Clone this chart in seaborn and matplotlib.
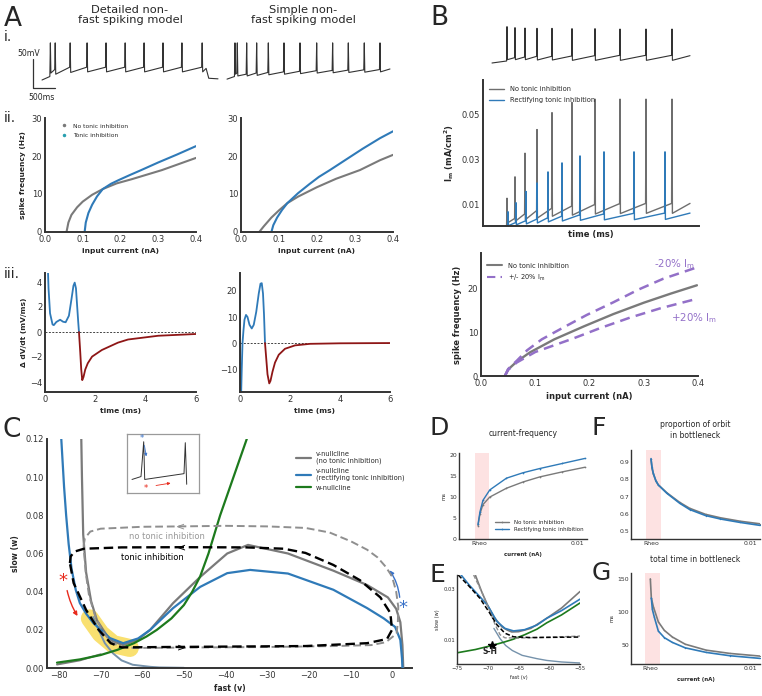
import matplotlib
matplotlib.use("Agg")
import matplotlib.pyplot as plt
import seaborn as sns
from matplotlib.lines import Line2D

sns.set_style("white")
plt.rcParams['font.family'] = ['DejaVu Sans']
plt.rcParams['mathtext.default'] = 'regular'

W, H = 762, 696

GRAY = "#7a7a7a"
BLUE = "#2f7ab8"
RED = "#8e1616"
GREEN = "#1d7a1d"
PURPLE = "#9370c8"
PINK = "#fde2e2"
BGRAY = "#7592ab"
SPINE = "#333333"

# ==============================================================================
# Data
# ==============================================================================

# --- A.i voltage traces (ms, mV) ---
det_start = (0, -70)
det_spike_t = [190, 300, 640, 1025, 1455, 1890, 2320, 2750, 3180, 3640]
det_pre = [-64, -52, -48, -48, -48, -48, -48, -48, -48, -48]
det_peak = [-6, -6, -6, -6, -6, -6, -6, -6, -6, -6]
det_trough = [-58, -60, -57, -56, -56, -56, -56, -56, -56, -56]
det_tail_t = [3730, 3790, 4000]
det_tail_v = [-50, -67, -68]

sim_start = (4205, -68.5)
sim_spike_t = [4386, 4439, 4652, 4879, 5144, 5500, 5864, 6243, 6606, 6962, 7325, 7682]
sim_pre = [-64, -58, -60, -58, -57, -56, -55, -54, -53.5, -53, -52.5, -52]
sim_peak = [-6, -6, -6, -6, -6, -6, -6, -6, -6, -6, -6, -6]
sim_trough = [-60, -63, -63, -62, -61, -60, -59, -58, -57.5, -57, -56.5, -56]
sim_tail_t = [7909]
sim_tail_v = [-51]

# scale bar: 50 mV x 500 ms
bar_mv = 50
bar_ms = 500

# --- A.ii f-I curves ---
det_fi_gray_x = [0.057, 0.062, 0.07, 0.085, 0.1, 0.125, 0.153, 0.19, 0.23, 0.27, 0.31, 0.355, 0.4]
det_fi_gray_y = [0, 2.5, 4.5, 6.5, 8, 9.8, 11.3, 12.8, 13.9, 15.1, 16.3, 17.9, 19.5]
det_fi_blue_x = [0.105, 0.108, 0.115, 0.125, 0.138, 0.153, 0.175, 0.196, 0.225, 0.255, 0.3, 0.35, 0.4]
det_fi_blue_y = [0, 2.5, 5, 7.2, 9.4, 11.3, 12.7, 13.7, 15, 16.3, 18.3, 20.4, 22.6]
sim_fi_gray_x = [0.048, 0.06, 0.08, 0.1, 0.122, 0.15, 0.2, 0.25, 0.313, 0.366, 0.4]
sim_fi_gray_y = [0, 1.5, 3.8, 5.7, 7.6, 9.3, 11.8, 14, 16.3, 18.9, 20.3]
sim_fi_blue_x = [0.08, 0.085, 0.095, 0.108, 0.122, 0.15, 0.18, 0.205, 0.234, 0.28, 0.32, 0.366, 0.4]
sim_fi_blue_y = [0, 1.8, 3.8, 5.8, 7.6, 10.2, 12.6, 14.5, 16.3, 19.3, 21.9, 24.7, 26.5]

# --- A.iii delta dV/dt ---
det_dv_pos_t = [0.1, 0.14, 0.2, 0.3, 0.35, 0.45, 0.6, 0.72, 0.82, 0.95, 1.05, 1.13, 1.18, 1.23, 1.28, 1.32, 1.35]
det_dv_pos_v = [6, 3.5, 1.5, 0.6, 0.55, 0.8, 0.98, 0.82, 0.78, 1.3, 2.6, 3.7, 3.95, 3.5, 2.0, 0.8, 0]
det_dv_neg_t = [1.35, 1.4, 1.44, 1.48, 1.53, 1.6, 1.7, 1.87, 2.26, 2.9, 3.3, 4.5, 6.0]
det_dv_neg_v = [0, -1.6, -3.0, -3.85, -3.6, -3.0, -2.5, -1.97, -1.44, -0.85, -0.6, -0.3, -0.16]
sim_dv_pos_t = [0.04, 0.07, 0.1, 0.14, 0.18, 0.24, 0.3, 0.38, 0.47, 0.55, 0.65, 0.75, 0.82, 0.87, 0.92, 0.96, 1.0]
sim_dv_pos_v = [-22, -10, 0, 5, 9, 10.8, 10, 7, 5.6, 7, 12, 19, 22.8, 23, 19, 11, 0]
sim_dv_neg_t = [1.0, 1.05, 1.1, 1.17, 1.22, 1.3, 1.4, 1.55, 1.8, 2.2, 2.8, 4.0, 6.0]
sim_dv_neg_v = [0, -6, -12, -15.5, -14.5, -11, -7.5, -4.5, -2.2, -0.9, -0.3, -0.1, 0]

# --- B top voltage trace and I_m traces (time in ms) ---
top_start = (45, -70)
top_spike_t = [120, 160, 210, 270, 345, 445, 560, 685, 815, 945]
top_pre = [-67, -62, -61, -60, -60, -59.5, -59, -58.5, -58.5, -58.5]
top_peak = [-15.5, -17, -17.5, -18, -18, -18.5, -18.5, -19, -19, -19]
top_trough = [-65, -65, -65, -65.5, -65.5, -66, -66, -66, -66, -66]
top_end = (1035, -59)

im_gray_t = [120, 160, 210, 270, 345, 445, 560, 685, 815, 945]
im_gray_peak = [0.013, 0.0225, 0.033, 0.0435, 0.051, 0.0555, 0.057, 0.057, 0.057, 0.057]
im_gray_pre = [0.0008, 0.004, 0.006, 0.0075, 0.0085, 0.0095, 0.0102, 0.0106, 0.0107, 0.0107]
im_gray_trough = [0.002, 0.0028, 0.0035, 0.0042, 0.005, 0.0055, 0.006, 0.0062, 0.0063, 0.0063]
im_gray_end = (1035, 0.0107)
im_blue_t = [125, 165, 215, 270, 325, 395, 485, 605, 755, 910]
im_blue_peak = [0.007, 0.011, 0.016, 0.0198, 0.0247, 0.0287, 0.0318, 0.0336, 0.0336, 0.0336]
im_blue_pre = [0.0008, 0.0022, 0.003, 0.0037, 0.0043, 0.005, 0.0056, 0.006, 0.0063, 0.0064]
im_blue_trough = [0.0008, 0.0012, 0.0016, 0.002, 0.0025, 0.0029, 0.0032, 0.0034, 0.0035, 0.0036]
im_blue_end = (1035, 0.0064)

# --- B f-I with +/- 20% I_m ---
b_gray_x = [0.044, 0.05, 0.066, 0.09, 0.135, 0.19, 0.244, 0.3, 0.35, 0.398]
b_gray_y = [0, 1.5, 3.3, 5.4, 8.4, 11.4, 14.2, 16.8, 18.9, 20.8]
b_minus_x = [0.044, 0.05, 0.066, 0.085, 0.112, 0.15, 0.195, 0.244, 0.29, 0.336, 0.398]
b_minus_y = [0, 1.6, 3.5, 5.9, 8.4, 11, 14, 16.9, 19.8, 22.3, 24.9]
b_plus_x = [0.044, 0.05, 0.066, 0.1, 0.17, 0.22, 0.275, 0.33, 0.398]
b_plus_y = [0, 1.4, 3.1, 5.5, 8.6, 11, 13.4, 15.5, 17.7]

# --- C phase plane ---
c_gray_v = [-74.7, -74.5, -74.2, -73.5, -72.3, -70.9, -67.8, -64.6, -61, -58.1, -52.6, -46.1, -39.6,
            -34.6, -25, -14.1, -6, -1, 1, 2.0, 2.5, 2.7]
c_gray_w = [0.125, 0.1, 0.07, 0.05, 0.035, 0.025, 0.0147, 0.012, 0.015, 0.02, 0.034, 0.0477, 0.06,
            0.0645, 0.06, 0.051, 0.0435, 0.037, 0.031, 0.024, 0.012, 0.0]
c_blue_v = [-79.6, -79.2, -78.8, -78.3, -77.7, -77.0, -76.0, -75.0, -73.5, -71.8, -67.8, -64.6, -61,
            -58.1, -52.6, -46.1, -39.6, -34.1, -25, -14.1, -6, -2, 0.75, 2, 2.4, 2.5]
c_blue_w = [0.125, 0.11, 0.095, 0.08, 0.065, 0.052, 0.041, 0.034, 0.0285, 0.0236, 0.0157, 0.013, 0.0155,
            0.02, 0.0314, 0.0425, 0.0497, 0.0514, 0.0495, 0.041, 0.0314, 0.026, 0.0215, 0.0147, 0.005, 0.0]
c_low_v = [-71.8, -70.5, -69, -67.1, -65, -62.3, -58, -55.9, -50]
c_low_w = [0.0267, 0.02, 0.013, 0.0078, 0.004, 0.0017, 0.0006, 0.0003, 0.0001]
c_low2_v = [-80.5, -75, -70]
c_low2_w = [0.0018, 0.004, 0.0072]
c_green_v = [-80.5, -75, -70, -66, -62, -59, -56.5, -53, -50, -48, -46.1, -44.1, -41.3, -38.1, -34.9, -34.5]
c_green_w = [0.0028, 0.0045, 0.0068, 0.0095, 0.013, 0.0165, 0.02, 0.026, 0.033, 0.04, 0.048, 0.06, 0.08,
             0.10, 0.12, 0.1225]
orbit_no_v = [-74.1, -73.8, -72.5, -70, -60, -50.9, -40, -30, -20.8, -15, -9.9, -6, -3.5, -1.5, 0, 1, 1.5,
              1.4, 1.1, -1.5, -5, -14, -30, -50, -62, -65, -67.5, -69.5, -71.3, -72.8, -73.6, -74.1]
orbit_no_w = [0.064, 0.068, 0.0715, 0.073, 0.074, 0.0742, 0.0745, 0.0742, 0.0734, 0.071, 0.0664, 0.062,
              0.058, 0.053, 0.048, 0.04, 0.032, 0.024, 0.018, 0.0135, 0.012, 0.0115, 0.011, 0.0107, 0.0105,
              0.011, 0.0135, 0.019, 0.027, 0.038, 0.05, 0.064]
orbit_ti_v = [-77.4, -77.2, -76.3, -74, -65, -50.5, -35, -26, -20.8, -14.1, -7.7, -2.8, -0.4, 0, -1.2, -6,
              -20.8, -54, -65, -67.6, -70.5, -73.5, -76.5, -77.4]
orbit_ti_w = [0.055, 0.0585, 0.061, 0.0625, 0.0632, 0.0633, 0.0632, 0.0625, 0.0603, 0.054, 0.046, 0.037,
              0.0288, 0.02, 0.0152, 0.013, 0.0115, 0.011, 0.0108, 0.013, 0.02, 0.0304, 0.0445, 0.055]
bottleneck_v = [-72.6, -70, -67, -63]
bottleneck_w = [0.026, 0.018, 0.0125, 0.0105]

inset_t = [5, 14, 16.7, 17.7, 57, 58.3, 59.7]
inset_v = [12, 15, 51, 12, 18, 50, 7]

# --- D current-frequency ---
d_gray_x = [-0.0001, 0.0001, 0.0004, 0.0011, 0.0028, 0.0045, 0.0062, 0.0085, 0.0108]
d_gray_y = [3.2, 6, 8.2, 10, 12.1, 13.6, 14.8, 16, 17.1]
d_blue_x = [-0.0001, 0.0001, 0.0004, 0.0011, 0.0028, 0.0045, 0.0062, 0.0085, 0.0108]
d_blue_y = [3.5, 6.5, 9.2, 11.7, 14.5, 15.8, 16.8, 18, 19.2]

# --- E zoom of bottleneck ---
e_gray_v = [-72.1, -71, -70, -69, -67.7, -66.8, -66.1, -65, -63, -60.4, -58, -55]
e_gray_w = [0.036, 0.029, 0.0235, 0.019, 0.0151, 0.0138, 0.0131, 0.0132, 0.0145, 0.0185, 0.0225, 0.029]
e_blue_v = [-74.5, -73, -71.3, -70, -68.5, -67.2, -65.8, -64, -62, -60.4, -58, -55]
e_blue_w = [0.036, 0.0315, 0.027, 0.0235, 0.0172, 0.0145, 0.0135, 0.014, 0.0158, 0.0185, 0.0215, 0.026]
e_low_v = [-69, -68, -67.1, -66, -64.4, -62, -60.4, -58, -55]
e_low_w = [0.0145, 0.0105, 0.0078, 0.0058, 0.0039, 0.0026, 0.0019, 0.0013, 0.0009]
e_green_v = [-75, -72, -69.3, -67.5, -65.9, -64, -62, -60.4, -58, -55]
e_green_w = [0.0049, 0.0062, 0.0078, 0.009, 0.0102, 0.012, 0.0142, 0.0167, 0.0198, 0.0245]
e_orbit_no_v = [-72.3, -71, -69.8, -68.8, -68, -67.2, -65, -62, -58, -55]
e_orbit_no_w = [0.0355, 0.029, 0.022, 0.016, 0.012, 0.0108, 0.0107, 0.0109, 0.0112, 0.0115]
e_orbit_ti_v = [-74.8, -73, -71.3, -69.8, -68.5, -67.2, -65.8, -63, -59, -55]
e_orbit_ti_w = [0.0355, 0.031, 0.0264, 0.021, 0.0159, 0.0126, 0.0112, 0.0109, 0.011, 0.0111]
sh_point = (-69.3, 0.0080)

# --- F proportion of orbit in bottleneck ---
f_x = [0.0, 0.0001, 0.00023, 0.0005, 0.00074, 0.0016, 0.0029, 0.0039, 0.0055, 0.007, 0.009, 0.011]
f_gray_y = [0.915, 0.865, 0.832, 0.79, 0.768, 0.722, 0.666, 0.632, 0.597, 0.577, 0.557, 0.542]
f_blue_y = [0.92, 0.87, 0.835, 0.79, 0.767, 0.719, 0.661, 0.625, 0.59, 0.57, 0.55, 0.533]

# --- G total time in bottleneck ---
g_gray_x = [0.0, 0.0001, 0.0003, 0.0008, 0.0014, 0.0022, 0.0035, 0.0056, 0.008, 0.011]
g_gray_y = [150, 121, 108, 85, 72, 62, 51, 42, 37, 33]
g_blue_x = [0.0001, 0.0002, 0.0004, 0.0008, 0.0014, 0.0022, 0.0035, 0.0056, 0.008, 0.011]
g_blue_y = [121, 104, 92, 71, 61, 53.8, 45.5, 38.6, 33.5, 29.5]

# ==============================================================================
# Helpers
# ==============================================================================

fig = plt.figure(figsize=(W / 100, H / 100), dpi=100)


def add_ax(x0, y0, x1, y1):
    """Axes from pixel box (left, top, right, bottom)."""
    return fig.add_axes([x0 / W, 1 - y1 / H, (x1 - x0) / W, (y1 - y0) / H])


def style(ax, fs=6, lw=1.4):
    sns.despine(ax=ax)
    for s in ("left", "bottom"):
        ax.spines[s].set_linewidth(lw)
        ax.spines[s].set_color(SPINE)
    ax.tick_params(length=0, labelsize=fs, pad=2, colors="#333333")


def bare(ax):
    ax.set_xticks([])
    ax.set_yticks([])
    for s in ax.spines.values():
        s.set_visible(False)
    ax.patch.set_alpha(0)


def ftext(x, y, s, **kw):
    fig.text(x / W, 1 - y / H, s, **kw)


def spike_trace(start, times, pre, peak, trough, tail_t, tail_v, width):
    t, v = [start[0]], [start[1]]
    for ts, a, b, c in zip(times, pre, peak, trough):
        t += [ts - width, ts, ts + width]
        v += [a, b, c]
    return t + list(tail_t), v + list(tail_v)


def curve(ax, x, y, **kw):
    sns.lineplot(x=x, y=y, ax=ax, sort=False, estimator=None, **kw)


# ==============================================================================
# Panel A
# ==============================================================================
ftext(4, 26, "A", fontsize=19, va="baseline")
ftext(130, 15, "Detailed non-\nfast spiking model", fontsize=8.2, ha="center", va="center", linespacing=1.05)
ftext(303, 15, "Simple non-\nfast spiking model", fontsize=8.2, ha="center", va="center", linespacing=1.05)
ftext(4, 37, "i.", fontsize=10, va="center")
ftext(4, 118, "ii.", fontsize=10, va="center")
ftext(4, 274, "iii.", fontsize=10, va="center")

ax_tr = add_ax(30, 35, 392, 100)
bare(ax_tr)
t1, v1 = spike_trace(det_start, det_spike_t, det_pre, det_peak, det_trough, det_tail_t, det_tail_v, 12)
t2, v2 = spike_trace(sim_start, sim_spike_t, sim_pre, sim_peak, sim_trough, sim_tail_t, sim_tail_v, 12)
ax_tr.plot(t1, v1, color="#333333", lw=0.8)
ax_tr.plot(t2, v2, color="#333333", lw=0.8)
bar_t0, bar_v0 = -205, -84
ax_tr.plot([bar_t0, bar_t0, bar_t0 + bar_ms], [bar_v0 + bar_mv, bar_v0, bar_v0], color="#333333", lw=0.9)
ax_tr.set_xlim(-273, 7955)
ax_tr.set_ylim(-104.5, 7.6)
ftext(17, 53, "50mV", fontsize=5.6, va="center")
ftext(28, 97, "500ms", fontsize=5.6, va="center")

fi_sets = [((45, 118, 196, 232), det_fi_gray_x, det_fi_gray_y, det_fi_blue_x, det_fi_blue_y),
           ((241, 118, 393, 232), sim_fi_gray_x, sim_fi_gray_y, sim_fi_blue_x, sim_fi_blue_y)]
for i, (box, gx, gy, bx, by) in enumerate(fi_sets):
    ax = add_ax(*box)
    curve(ax, gx, gy, color=GRAY, lw=1.5)
    curve(ax, bx, by, color=BLUE, lw=1.5)
    ax.set_xlim(0, 0.4)
    ax.set_ylim(0, 30)
    ax.set_xticks([0, 0.1, 0.2, 0.3, 0.4])
    ax.set_xticklabels(["0.0", "0.1", "0.2", "0.3", "0.4"])
    ax.set_yticks([0, 10, 20, 30])
    style(ax)
    ax.set_xlabel("input current (nA)", fontsize=5.4, fontweight="bold", labelpad=3)
    if i == 0:
        ax.set_ylabel("spike frequency (Hz)", fontsize=5.4, fontweight="bold", labelpad=4)
        hs = [Line2D([], [], ls="", marker=".", ms=3, color=GRAY),
              Line2D([], [], ls="", marker=".", ms=3, color="#2aa0b0")]
        ax.legend(hs, ["No tonic inhibition", "Tonic inhibition"], loc="upper left",
                  bbox_to_anchor=(0.05, 1.0), frameon=False, fontsize=4.3, handletextpad=0.6,
                  labelspacing=0.7)

dv_sets = [((45, 273, 196, 392), det_dv_pos_t, det_dv_pos_v, det_dv_neg_t, det_dv_neg_v,
            (-4.8, 4.72), [-4, -2, 0, 2, 4]),
           ((240, 273, 390, 392), sim_dv_pos_t, sim_dv_pos_v, sim_dv_neg_t, sim_dv_neg_v,
            (-18.8, 26.9), [-10, 0, 10, 20])]
for i, (box, pt, pv, nt, nv, ylim, yt) in enumerate(dv_sets):
    ax = add_ax(*box)
    ax.axhline(0, color="#444444", lw=0.7, ls=(0, (2, 1.5)), zorder=1)
    curve(ax, pt, pv, color=BLUE, lw=1.3)
    curve(ax, nt, nv, color=RED, lw=1.3)
    ax.set_xlim(0, 6)
    ax.set_ylim(*ylim)
    ax.set_xticks([0, 2, 4, 6])
    ax.set_yticks(yt)
    style(ax)
    ax.set_xlabel("time (ms)", fontsize=5.4, fontweight="bold", labelpad=3)
    if i == 0:
        ax.set_ylabel("\u0394 dV/dt (mV/ms)", fontsize=5.4, fontweight="bold", labelpad=2)

# ==============================================================================
# Panel B
# ==============================================================================
ftext(430, 25, "B", fontsize=19, va="baseline")

ax_bt = add_ax(483, 22, 699, 68)
bare(ax_bt)
tt, tv = spike_trace(top_start, top_spike_t, top_pre, top_peak, top_trough, [top_end[0]], [top_end[1]], 2)
ax_bt.plot(tt, tv, color="#333333", lw=0.8)
ax_bt.set_xlim(0, 1080)
ax_bt.set_ylim(-77.5, -8.5)

ax_im = add_ax(483, 80, 699, 226)
gt, gv = spike_trace((115, 0.0008), im_gray_t, im_gray_pre, im_gray_peak, im_gray_trough,
                     [im_gray_end[0]], [im_gray_end[1]], 2)
bt, bv = spike_trace((118, 0.0008), im_blue_t, im_blue_pre, im_blue_peak, im_blue_trough,
                     [im_blue_end[0]], [im_blue_end[1]], 2)
ax_im.plot(gt, gv, color="#6e6e6e", lw=1.0, label="No tonic inhibition")
ax_im.plot(bt, bv, color=BLUE, lw=1.0, label="Rectifying tonic inhibition")
ax_im.set_xlim(0, 1080)
ax_im.set_ylim(0.00067, 0.0655)
ax_im.set_xticks([])
ax_im.set_yticks([0.01, 0.03, 0.05])
ax_im.set_yticklabels(["0.01", "0.03", "0.05"])
style(ax_im)
ax_im.set_xlabel("time (ms)", fontsize=6, fontweight="bold", labelpad=3)
ax_im.set_ylabel("I$_m$ (mA/cm$^2$)", fontsize=6, fontweight="bold", labelpad=4)
ax_im.legend(loc="upper left", bbox_to_anchor=(0.0, 1.0), frameon=False, fontsize=4.8,
             handlelength=2.3, labelspacing=0.8)

ax_bf = add_ax(481, 253, 698, 376)
curve(ax_bf, b_gray_x, b_gray_y, color=GRAY, lw=1.7)
ax_bf.plot(b_minus_x, b_minus_y, color=PURPLE, lw=1.8, ls=(0, (4, 2.5)))
ax_bf.plot(b_plus_x, b_plus_y, color=PURPLE, lw=1.8, ls=(0, (4, 2.5)))
ax_bf.set_xlim(0, 0.4)
ax_bf.set_ylim(0, 28.2)
ax_bf.set_xticks([0, 0.1, 0.2, 0.3, 0.4])
ax_bf.set_xticklabels(["0.0", "0.1", "0.2", "0.3", "0.4"])
ax_bf.set_yticks([0, 10, 20])
style(ax_bf)
ax_bf.set_xlabel("input current (nA)", fontsize=6, fontweight="bold", labelpad=3)
ax_bf.set_ylabel("spike frequency (Hz)", fontsize=6, fontweight="bold", labelpad=4)
hs = [Line2D([], [], color=GRAY, lw=1.5), Line2D([], [], color=PURPLE, lw=1.5, ls=(0, (4, 2.5)))]
ax_bf.legend(hs, ["No tonic inhibition", "+/- 20% I$_m$"], loc="upper left", bbox_to_anchor=(0.0, 0.97),
             frameon=False, fontsize=4.8, handlelength=2.3, labelspacing=0.6)
ftext(675, 264, "-20% I$_m$", fontsize=7.4, color=PURPLE, ha="center", va="center")
ftext(694, 318, "+20% I$_m$", fontsize=7.4, color=PURPLE, ha="center", va="center")

# ==============================================================================
# Panel C
# ==============================================================================
ftext(3, 437, "C", fontsize=19, va="baseline")
ax_c = add_ax(47, 439, 412, 668)
ax_c.plot(bottleneck_v, bottleneck_w, color="#f7d640", lw=13, alpha=0.75, solid_capstyle="round", zorder=1)
ax_c.plot(c_low2_v, c_low2_w, color=GRAY, lw=1.4, zorder=2)
ax_c.plot(c_low_v, c_low_w, color=BGRAY, lw=1.4, zorder=2)
ax_c.plot(c_gray_v, c_gray_w, color=GRAY, lw=1.6, zorder=3, label="v-nullcline\n(no tonic inhibition)")
ax_c.plot(c_blue_v, c_blue_w, color=BLUE, lw=1.6, zorder=3, label="v-nullcline\n(rectifying tonic inhibition)")
ax_c.plot(c_green_v, c_green_w, color=GREEN, lw=1.6, zorder=3, label="w-nullcline")
ax_c.plot(orbit_no_v, orbit_no_w, color="#8f8f8f", lw=1.4, ls=(0, (4, 2)), zorder=4)
ax_c.plot(orbit_ti_v, orbit_ti_w, color="black", lw=1.7, ls=(0, (4, 2)), zorder=4)
ax_c.text(-50.9, 0.0742, "<", color="#8f8f8f", fontsize=8, ha="center", va="center", zorder=5)
ax_c.text(-50.5, 0.0633, "<", color="black", fontsize=8, ha="center", va="center", zorder=5)
ax_c.text(-50.5, 0.0108, ">", color="black", fontsize=8, ha="center", va="center", zorder=5)
ax_c.text(-54, 0.069, "no tonic inhibition", color="#999999", fontsize=6, ha="center", va="center")
ax_c.text(-57.7, 0.0577, "tonic inhibition", color="black", fontsize=6, ha="center", va="center")
ax_c.text(-79, 0.0458, "*", color="#e82a1c", fontsize=13, ha="center", va="center")
ax_c.annotate("", xy=(-75.2, 0.026), xytext=(-78.2, 0.042),
              arrowprops=dict(arrowstyle="-|>", color="#e82a1c", lw=1.0, mutation_scale=6,
                              connectionstyle="arc3,rad=0.1"))
ax_c.text(2.6, 0.0315, "*", color="#3a72c8", fontsize=13, ha="center", va="center")
ax_c.annotate("", xy=(-1.0, 0.0524), xytext=(1.9, 0.0356),
              arrowprops=dict(arrowstyle="-|>", color="#3a72c8", lw=1.0, mutation_scale=6,
                              connectionstyle="arc3,rad=0.15"))
ax_c.set_xlim(-82.9, 4.8)
ax_c.set_ylim(0, 0.12)
ax_c.set_xticks(range(-80, 1, 10))
ax_c.set_yticks([0, 0.02, 0.04, 0.06, 0.08, 0.10, 0.12])
ax_c.set_yticklabels(["0.00", "0.02", "0.04", "0.06", "0.08", "0.10", "0.12"])
style(ax_c)
ax_c.set_xlabel("fast (v)", fontsize=5.6, fontweight="bold", labelpad=3)
ax_c.set_ylabel("slow (w)", fontsize=5.6, fontweight="bold", labelpad=4)
ax_c.legend(loc="upper left", bbox_to_anchor=((290 - 47) / 365, (668 - 445) / 229), frameon=False,
            fontsize=4.8, handlelength=2.2, labelspacing=0.5)

ax_in = add_ax(127, 434, 199, 493)
ax_in.plot(inset_t, inset_v, color="#333333", lw=0.7)
ax_in.text(14.7, 54, "*", color="#3a72c8", fontsize=6, ha="center", va="center")
ax_in.annotate("", xy=(19.7, 33), xytext=(17, 50),
               arrowprops=dict(arrowstyle="-|>", color="#3a72c8", lw=0.6, mutation_scale=4))
ax_in.text(19, 3, "*", color="#e82a1c", fontsize=6, ha="center", va="center")
ax_in.annotate("", xy=(46.3, 8.7), xytext=(26.3, 5.3),
               arrowprops=dict(arrowstyle="-|>", color="#e82a1c", lw=0.6, mutation_scale=4))
ax_in.set_xlim(0, 72)
ax_in.set_ylim(-2, 59)
ax_in.set_xticks([])
ax_in.set_yticks([])
for s in ax_in.spines.values():
    s.set_visible(True)
    s.set_color("#9a9a9a")
    s.set_linewidth(0.9)

# ==============================================================================
# Panels D, E, F, G
# ==============================================================================
ftext(430, 435, "D", fontsize=18, va="baseline")
ftext(592, 435, "F", fontsize=18, va="baseline")
ftext(430, 582, "E", fontsize=18, va="baseline")
ftext(592, 580, "G", fontsize=18, va="baseline")


def small_style(ax):
    style(ax, fs=4.4, lw=1.0)
    ax.tick_params(pad=1.5)


ax_d = add_ax(459, 453, 587, 539)
ax_d.axvspan(-0.0004, 0.001, color=PINK, lw=0, zorder=0)
curve(ax_d, d_gray_x, d_gray_y, color=GRAY, lw=1.0, marker=".", ms=2.5, mec="none", label="No tonic inhibition")
curve(ax_d, d_blue_x, d_blue_y, color=BLUE, lw=1.0, marker=".", ms=2.5, mec="none",
      label="Rectifying tonic inhibition")
ax_d.set_xlim(-0.00204, 0.01102)
ax_d.set_ylim(0, 20.5)
ax_d.set_xticks([0, 0.01])
ax_d.set_xticklabels(["Rheo", "0.01"])
ax_d.set_yticks([0, 5, 10, 15, 20])
small_style(ax_d)
ax_d.set_title("current-frequency", fontsize=5.5, pad=12)
ax_d.set_xlabel("current (nA)", fontsize=4, fontweight="bold", labelpad=4)
ax_d.set_ylabel("ms", fontsize=3.8, labelpad=2)
ax_d.legend(loc="lower left", bbox_to_anchor=(0.24, 0.02), frameon=False, fontsize=4, handlelength=2.6,
            labelspacing=0.5)

ax_f = add_ax(631, 450, 760, 539)
ax_f.axvspan(-0.0005, 0.001, color=PINK, lw=0, zorder=0)
curve(ax_f, f_x, f_gray_y, color=GRAY, lw=1.2, marker=".", ms=2, mec="none")
curve(ax_f, f_x, f_blue_y, color=BLUE, lw=1.2, marker=".", ms=2, mec="none")
ax_f.set_xlim(-0.00202, 0.0110)
ax_f.set_ylim(0.454, 0.97)
ax_f.set_xticks([0, 0.01])
ax_f.set_xticklabels(["Rheo", "0.01"])
ax_f.set_yticks([0.5, 0.6, 0.7, 0.8, 0.9])
small_style(ax_f)
ax_f.set_title("proportion of orbit\nin bottleneck", fontsize=5.5, pad=9, linespacing=1.2)

ax_g = add_ax(631, 573, 760, 664)
ax_g.axvspan(-0.0005, 0.001, color=PINK, lw=0, zorder=0)
curve(ax_g, g_gray_x, g_gray_y, color=GRAY, lw=1.2, marker=".", ms=2, mec="none")
curve(ax_g, g_blue_x, g_blue_y, color=BLUE, lw=1.2, marker=".", ms=2, mec="none")
ax_g.set_xlim(-0.00194, 0.0110)
ax_g.set_ylim(21, 159)
ax_g.set_xticks([0, 0.01])
ax_g.set_xticklabels(["Rheo", "0.01"])
ax_g.set_yticks([50, 100, 150])
small_style(ax_g)
ax_g.set_title("total time in bottleneck", fontsize=5.5, pad=8)
ax_g.set_xlabel("current (nA)", fontsize=4, fontweight="bold", labelpad=4)
ax_g.set_ylabel("ms", fontsize=3.8, labelpad=2)

ax_e = add_ax(457, 575, 580, 664)
ax_e.plot(e_low_v, e_low_w, color=BGRAY, lw=1.0)
ax_e.plot(e_gray_v, e_gray_w, color=GRAY, lw=1.2)
ax_e.plot(e_blue_v, e_blue_w, color=BLUE, lw=1.2)
ax_e.plot(e_green_v, e_green_w, color=GREEN, lw=1.2)
ax_e.plot(e_orbit_no_v, e_orbit_no_w, color="#8f8f8f", lw=1.0, ls=(0, (3, 1.5)))
ax_e.plot(e_orbit_ti_v, e_orbit_ti_w, color="black", lw=1.1, ls=(0, (3, 1.5)))
ax_e.plot([sh_point[0]], [sh_point[1]], marker="*", color="black", ms=6, ls="")
ax_e.text(sh_point[0] - 0.3, sh_point[1] - 0.0026, "S-H", fontsize=5.5, fontweight="bold", ha="center",
          va="center")
ax_e.set_xlim(-75, -55)
ax_e.set_ylim(0.0005, 0.0355)
ax_e.set_xticks([-75, -70, -65, -60, -55])
ax_e.set_yticks([0.01, 0.03])
ax_e.set_yticklabels(["0.01", "0.03"])
style(ax_e, fs=3.8, lw=1.0)
ax_e.tick_params(pad=1.5)
ax_e.set_xlabel("fast (v)", fontsize=3.6, labelpad=3)
ax_e.set_ylabel("slow (w)", fontsize=3.6, labelpad=2)

fig.savefig("out.png", dpi=100)
